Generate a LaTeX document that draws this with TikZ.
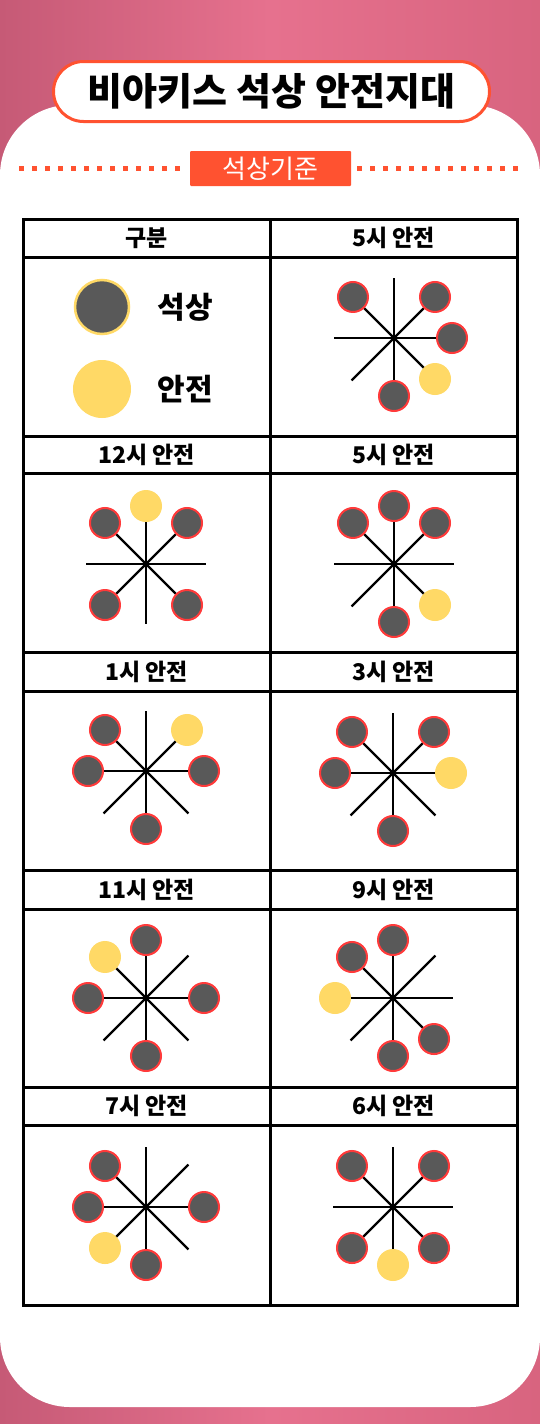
\documentclass[tikz,border=0pt]{standalone}
\usepackage{fontspec}
\setmainfont{Noto Sans CJK KR}
\usepackage{tikz}
\usetikzlibrary{calc,positioning}
\definecolor{mypinkL}{RGB}{198,90,118}
\definecolor{mypinkM}{RGB}{230,113,142}
\definecolor{mypinkR}{RGB}{216,100,127}
\definecolor{myorange}{RGB}{255,82,48}
\definecolor{myred}{RGB}{255,58,58}
\definecolor{mydark}{RGB}{89,89,89}
\definecolor{myyellow}{RGB}{255,217,102}

% one clock star: name, centre, dark stones, safe spot
\newcommand{\clockstar}[4]{%
  \coordinate (#1) at #2;
  \foreach \ang in {0,45,...,315}
    \draw[ray] (#1) -- ++(\ang:60pt);
  \foreach \ang in {#3}
    \node[stone] (#1-\ang) at ($(#1)+(\ang:58pt)$) {};
  \node[safe] (#1-safe) at ($(#1)+(#4:58pt)$) {};
}

\begin{document}
\begin{tikzpicture}[x=1pt,y=-1pt,
  ray/.style={line width=2.3pt},
  stone/.style={circle, draw=myred, line width=2pt, fill=mydark, minimum size=30pt, inner sep=0pt},
  safe/.style={circle, fill=myyellow, minimum size=32pt, inner sep=0pt},
  head/.style={inner sep=0pt, font=\fontsize{23}{23}\selectfont\bfseries},
  legend/.style={inner sep=0pt, anchor=west, font=\fontsize{30}{30}\selectfont\bfseries},
  grid/.style={line width=3pt},
  dots/.style={myorange, line width=5pt, dash pattern=on 5pt off 8pt}]

  % background
  \shade[left color=mypinkL, right color=mypinkR, middle color=mypinkM] (0,0) rectangle (540,1424);
  \useasboundingbox (0,0) rectangle (540,1424);
  \fill[white, rounded corners=70pt] (0,105) rectangle (540,1407);

  % title
  \node[draw=myorange, line width=3pt, fill=white, rounded corners=30pt, minimum width=436pt, minimum height=60pt,
        font=\fontsize{38}{38}\selectfont\bfseries] (title) at (271.5,91.5) {비아키스 석상 안전지대};

  % label with dotted rule
  \node[fill=myorange, minimum width=161pt, minimum height=35pt, rounded corners=1pt, text=white,
        font=\fontsize{26}{26}\selectfont] (lbl) at (270.5,168.5) {석상기준};
  \coordinate (dl) at (19,168.5);
  \coordinate (dr) at (524,168.5);
  \draw[dots] (dl) -- ([xshift=-4pt]lbl.west);
  \draw[dots] ([xshift=6pt]lbl.east) -- (dr);

  % table
  \draw[grid] (23,219) rectangle (517,1305);
  \draw[grid] (270,219) -- (270,1305);
  \foreach \y in {257,436,473,652,691,870,909,1087,1125}
    \draw[grid] (23,\y) -- (517,\y);

  % headers
  \node[head] (h11) at (146.5,238) {구분};
  \node[head] (h12) at (393.5,238) {5시 안전};
  \node[head] (h21) at (146.5,454.5) {12시 안전};
  \node[head] (h22) at (393.5,454.5) {5시 안전};
  \node[head] (h31) at (146.5,671.5) {1시 안전};
  \node[head] (h32) at (393.5,671.5) {3시 안전};
  \node[head] (h41) at (146.5,889.5) {11시 안전};
  \node[head] (h42) at (393.5,889.5) {9시 안전};
  \node[head] (h51) at (146.5,1106) {7시 안전};
  \node[head] (h52) at (393.5,1106) {6시 안전};

  % legend
  \node[circle, draw=myyellow, line width=2.5pt, fill=mydark, minimum size=54pt, inner sep=0pt] (lg1) at (102,307) {};
  \node[safe, minimum size=58pt] (lg2) at (102,389) {};
  \node[legend, right=27pt of lg1] (lt1) {석상};
  \node[legend, right=26pt of lg2] (lt2) {안전};

  % stars
  \clockstar{s12}{(394,338)}{135,45,0,-90}{-45}
  \clockstar{s21}{(146,564)}{135,45,-135,-45}{90}
  \clockstar{s22}{(394,564)}{90,135,45,-90}{-45}
  \clockstar{s31}{(146,771)}{135,180,0,-90}{45}
  \clockstar{s32}{(393,773)}{135,45,180,-90}{0}
  \clockstar{s41}{(146,998)}{90,180,0,-90}{135}
  \clockstar{s42}{(393,998)}{90,135,-45,-90}{180}
  \clockstar{s51}{(146,1207)}{135,180,0,-90}{-135}
  \clockstar{s52}{(393,1207)}{135,45,-135,-45}{-90}
\end{tikzpicture}
\end{document}
